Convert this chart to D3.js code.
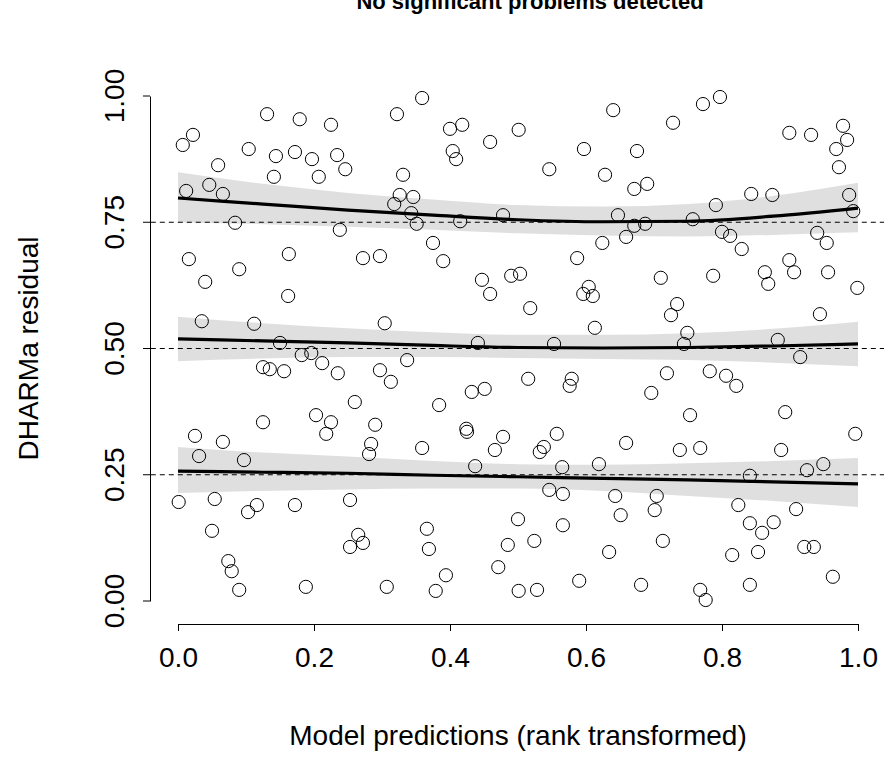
<!DOCTYPE html>
<html><head><meta charset="utf-8">
<script src="https://cdn.jsdelivr.net/npm/d3@7"></script>
<style>body{margin:0;background:#fff} svg{display:block} text{font-family:"Liberation Sans",Arial,sans-serif}</style>
</head><body><svg id="c" width="884" height="769"></svg>
<script>
// rank-transformed predictions (x) and DHARMa scaled residuals (y)
const predX = [0.131,0.179,0.225,0.022,0.007,0.104,0.144,0.172,0.197,0.234,0.059,0.141,0.207,0.046,0.012,0.066,0.084,0.238,0.016,0.163,
0.359,0.322,0.400,0.418,0.501,0.459,0.404,0.409,0.246,0.331,0.326,0.346,0.318,0.343,0.351,0.415,0.478,0.375,0.272,0.297,0.390,
0.640,0.728,0.597,0.675,0.546,0.628,0.671,0.690,0.647,0.671,0.687,0.757,0.659,0.624,0.587,
0.797,0.772,0.899,0.931,0.978,0.984,0.968,0.972,0.843,0.874,0.987,0.791,0.993,0.800,0.812,0.940,0.954,0.829,0.899,
0.090,0.040,0.162,0.035,0.112,0.150,0.182,0.196,0.212,0.235,0.125,0.135,0.156,0.203,0.225,0.218,0.125,0.025,0.066,
0.447,0.459,0.490,0.503,0.304,0.441,0.337,0.297,0.313,0.432,0.451,0.260,0.384,0.290,0.424,0.425,0.478,0.284,
0.710,0.604,0.596,0.610,0.518,0.734,0.725,0.613,0.553,0.749,0.744,0.515,0.579,0.576,0.719,0.696,0.753,0.557,0.659,
0.787,0.863,0.868,0.906,0.956,0.999,0.944,0.882,0.915,0.782,0.806,0.821,0.893,0.996,
0.031,0.097,0.001,0.054,0.116,0.103,0.172,0.050,0.074,0.079,0.090,0.188,
0.281,0.359,0.466,0.437,0.253,0.366,0.265,0.272,0.253,0.369,0.500,0.485,0.471,0.394,0.307,0.379,0.501,
0.532,0.538,0.738,0.768,0.565,0.619,0.546,0.566,0.643,0.704,0.701,0.651,0.566,0.524,0.713,0.634,0.590,0.681,0.528,0.768,
0.887,0.949,0.925,0.841,0.824,0.909,0.841,0.876,0.859,0.921,0.935,0.815,0.853,0.963,0.841,0.776];
const residY = [0.964,0.954,0.943,0.923,0.903,0.895,0.881,0.889,0.875,0.883,0.863,0.840,0.840,0.824,0.812,0.806,0.749,0.735,0.677,0.687,
0.996,0.964,0.935,0.943,0.933,0.909,0.891,0.875,0.855,0.844,0.804,0.800,0.786,0.768,0.747,0.752,0.764,0.709,0.679,0.683,0.673,
0.972,0.947,0.895,0.891,0.855,0.844,0.816,0.826,0.764,0.743,0.747,0.756,0.721,0.709,0.679,
0.998,0.984,0.927,0.923,0.941,0.913,0.895,0.859,0.806,0.804,0.804,0.784,0.772,0.731,0.723,0.729,0.709,0.697,0.675,
0.657,0.632,0.604,0.554,0.549,0.511,0.487,0.491,0.471,0.451,0.463,0.459,0.455,0.368,0.354,0.331,0.354,0.327,0.315,
0.636,0.608,0.644,0.648,0.550,0.511,0.477,0.457,0.434,0.414,0.420,0.394,0.388,0.349,0.341,0.335,0.325,0.311,
0.640,0.622,0.608,0.604,0.580,0.588,0.566,0.541,0.509,0.531,0.509,0.440,0.440,0.426,0.451,0.412,0.368,0.331,0.313,
0.644,0.651,0.628,0.651,0.651,0.620,0.568,0.517,0.483,0.455,0.446,0.426,0.374,0.331,
0.287,0.279,0.196,0.202,0.190,0.176,0.190,0.139,0.079,0.059,0.022,0.028,
0.291,0.303,0.299,0.267,0.200,0.143,0.131,0.115,0.107,0.103,0.162,0.111,0.067,0.051,0.028,0.020,0.020,
0.295,0.305,0.299,0.303,0.265,0.271,0.220,0.212,0.208,0.208,0.180,0.170,0.150,0.119,0.119,0.097,0.040,0.032,0.022,0.022,
0.299,0.271,0.259,0.248,0.190,0.182,0.154,0.156,0.135,0.107,0.107,0.091,0.097,0.048,0.032,0.002];

// fitted quantile curves and their confidence bands
const quantX  = [0, 0.125, 0.25, 0.375, 0.5, 0.625, 0.75, 0.875, 1];
const q25     = [0.257,0.255,0.253,0.249,0.246,0.243,0.240,0.236,0.232];
const q25Up   = [0.305,0.294,0.286,0.277,0.271,0.270,0.273,0.277,0.283];
const q25Lo   = [0.214,0.218,0.221,0.223,0.223,0.218,0.208,0.198,0.186];
const q50     = [0.519,0.515,0.511,0.506,0.502,0.501,0.502,0.505,0.509];
const q50Up   = [0.563,0.550,0.540,0.532,0.527,0.527,0.530,0.539,0.553];
const q50Lo   = [0.475,0.480,0.483,0.483,0.481,0.479,0.477,0.472,0.465];
const q75     = [0.798,0.786,0.774,0.764,0.755,0.751,0.752,0.762,0.778];
const q75Up   = [0.849,0.826,0.808,0.795,0.784,0.781,0.786,0.802,0.828];
const q75Lo   = [0.750,0.746,0.741,0.735,0.728,0.724,0.722,0.725,0.730];
const refLines = [0.25, 0.5, 0.75];

const xTicks = [0, 0.2, 0.4, 0.6, 0.8, 1.0];
const xTickLabels = ["0.0","0.2","0.4","0.6","0.8","1.0"];
const yTicks = [0, 0.25, 0.5, 0.75, 1.0];
const yTickLabels = ["0.00","0.25","0.50","0.75","1.00"];

const titleText = "No significant problems detected";
const xLabel = "Model predictions (rank transformed)";
const yLabel = "DHARMa residual";

const svg = d3.select("#c");
// plot region: usr = data range extended by 4%
const x = d3.scaleLinear().domain([0,1]).range([178,858]);
const y = d3.scaleLinear().domain([0,1]).range([601,96]);
const x0 = x(-0.04), x1 = x(1.04);

const pts = predX.map((v,i)=>({x:v, y:residY[i]}));
svg.append("g").selectAll("circle").data(pts).join("circle")
  .attr("cx", d=>x(d.x)).attr("cy", d=>y(d.y)).attr("r", 6.6)
  .attr("fill","none").attr("stroke","#000").attr("stroke-width",1);

const bands = [[q25,q25Up,q25Lo],[q50,q50Up,q50Lo],[q75,q75Up,q75Lo]];
const area = d3.area().x(d=>x(d.x)).y0(d=>y(d.lo)).y1(d=>y(d.hi)).curve(d3.curveMonotoneX);
const line = d3.line().x(d=>x(d.x)).y(d=>y(d.v)).curve(d3.curveMonotoneX);
bands.forEach(([m,u,l])=>{
  const dat = quantX.map((qx,i)=>({x:qx, v:m[i], hi:u[i], lo:l[i]}));
  svg.append("path").datum(dat).attr("d", area).attr("fill","rgba(0,0,0,0.125)").attr("stroke","none");
});
svg.append("g").selectAll("line").data(refLines).join("line")
  .attr("x1", x0).attr("x2", x1).attr("y1", d=>y(d)).attr("y2", d=>y(d))
  .attr("stroke","#000").attr("stroke-width",1).attr("stroke-dasharray","5,4");
bands.forEach(([m,u,l])=>{
  const dat = quantX.map((qx,i)=>({x:qx, v:m[i], hi:u[i], lo:l[i]}));
  svg.append("path").datum(dat).attr("d", line).attr("fill","none").attr("stroke","#000").attr("stroke-width",3.2);
});

// axes
const fs = 28;
const xa = d3.axisBottom(x).tickValues(xTicks).tickFormat((d,i)=>xTickLabels[i]).tickSize(7).tickSizeOuter(0).tickPadding(16);
const gx = svg.append("g").attr("transform","translate(0,624)").call(xa);
gx.selectAll("text").attr("font-size",fs).attr("font-family","Liberation Sans, Arial, sans-serif").attr("fill","#000");
gx.selectAll("path,line").attr("stroke","#000");

const ya = d3.axisLeft(y).tickValues(yTicks).tickFormat((d,i)=>yTickLabels[i]).tickSize(7).tickSizeOuter(0);
const gy = svg.append("g").attr("transform","translate(150,0)").call(ya);
gy.selectAll("path,line").attr("stroke","#000");
gy.selectAll("text").attr("font-size",fs).attr("font-family","Liberation Sans, Arial, sans-serif").attr("fill","#000")
  .attr("x",null).attr("dy",null).attr("text-anchor","middle")
  .attr("transform", d=>`translate(-26,${y(d)}) rotate(-90)`).attr("y",0);
gy.selectAll(".tick").attr("transform", null);
gy.selectAll(".tick line").attr("y1", d=>y(d)).attr("y2", d=>y(d));

svg.append("text").attr("x", (x0+x1)/2).attr("y", 745).attr("text-anchor","middle")
  .attr("font-size",fs).text(xLabel);
svg.append("text").attr("transform",`translate(38,${(y(0)+y(1))/2}) rotate(-90)`).attr("text-anchor","middle")
  .attr("font-size",fs).text(yLabel);
svg.append("text").attr("x", 530).attr("y", 9).attr("text-anchor","middle")
  .attr("font-size",22).attr("font-weight","bold").text(titleText);
</script></body></html>
